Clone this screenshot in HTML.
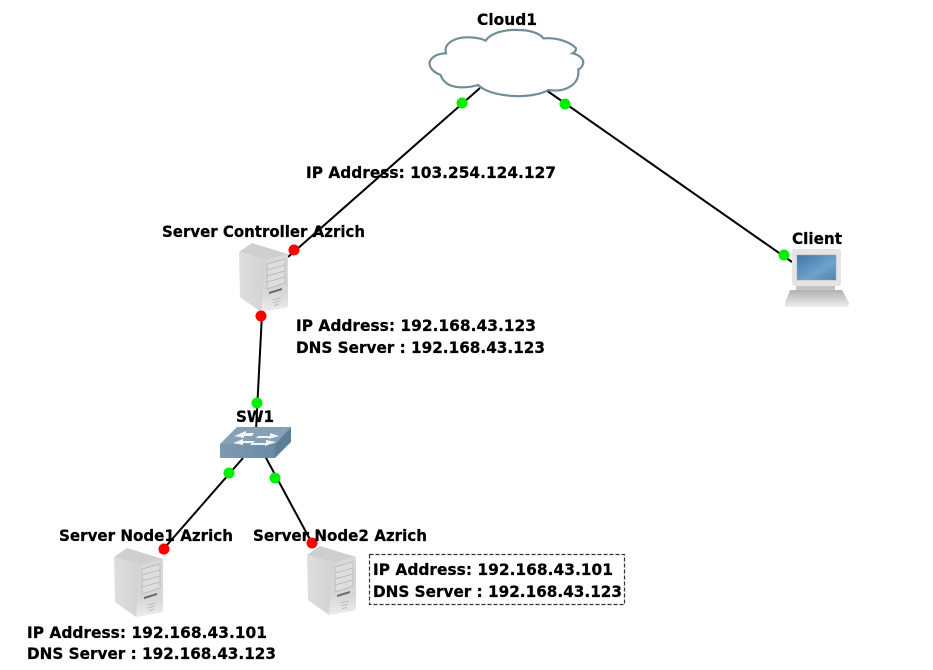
<!DOCTYPE html>
<html><head><meta charset="utf-8"><style>
html,body{margin:0;padding:0;background:#fff}
svg{display:block}
text{font-family:"DejaVu Sans","Liberation Sans",sans-serif;font-weight:bold;font-size:16px;fill:#000;stroke:#000;stroke-width:.25px}
</style></head><body>
<svg width="933" height="670" viewBox="0 0 933 670" xmlns="http://www.w3.org/2000/svg">
<defs>
<linearGradient id="sf" x1="0" y1="0" x2="1" y2="0"><stop offset="0" stop-color="#dedede"/><stop offset="1" stop-color="#d2d2d2"/></linearGradient>
<linearGradient id="sr" x1="0" y1="0" x2="0" y2="1"><stop offset="0" stop-color="#d8d8d8"/><stop offset=".65" stop-color="#d6d6d6"/><stop offset="1" stop-color="#ececec"/></linearGradient>
<linearGradient id="scr" x1="0" y1="0" x2="1" y2="1"><stop offset="0" stop-color="#3f74a6"/><stop offset=".6" stop-color="#6fa3cc"/><stop offset="1" stop-color="#4d83b0"/></linearGradient>
<linearGradient id="kb" x1="0" y1="0" x2="0" y2="1"><stop offset="0" stop-color="#b0b0b0"/><stop offset="1" stop-color="#eeeeee"/></linearGradient>
<linearGradient id="sw" x1="0" y1="0" x2="1" y2="0"><stop offset="0" stop-color="#7d9ab1"/><stop offset="1" stop-color="#6c8aa4"/></linearGradient>
<g id="srv">
<path d="M0 7 L13 -2 L49 9 L28 15 Z" fill="#cfcfcf"/>
<path d="M0 7 L28 15 L22 67 L1 52 Z" fill="url(#sf)"/>
<path d="M28 15 L49 9 L49 60 Q49 62 45 63 L22 67 Z" fill="url(#sr)"/>
<path d="M28 19 L46 14 L46 38 L28 44 Z" fill="#dedede" stroke="#b4b4b4" stroke-width=".7"/>
<path d="M28 25 L46 20 M28 31 L46 26 M28 37 L46 32" stroke="#b4b4b4" stroke-width=".7"/>
<path d="M30 47 L43 43 L43 45 L30 49 Z" fill="#666"/>
<path d="M33 55 L42 53 M34 58 L41 56 M35 61 L40 59" stroke="#bcbcbc" stroke-width="1"/>
</g>
</defs>

<rect width="933" height="670" fill="#fff"/>

<!-- connectors -->
<g stroke="#000" stroke-width="2" fill="none">
<line x1="480" y1="88" x2="288" y2="257"/>
<line x1="546" y1="90" x2="792" y2="262"/>
<line x1="262" y1="314" x2="256" y2="430"/>
<line x1="243" y1="458" x2="160" y2="553"/>
<line x1="265" y1="456" x2="313" y2="545"/>
</g>

<!-- cloud -->
<g transform="translate(420,0) scale(.33333)">
<path d="M62 225 C35 215 22 195 32 180 C40 167 60 160 78 160 C70 135 95 118 125 113 C150 110 180 113 197 122 C215 95 265 88 295 90 C330 90 360 100 370 115 C410 112 450 125 468 145 Q468 155 458 160 C480 165 495 180 488 195 Q484 205 475 208 C478 235 465 255 440 265 Q415 275 385 270 C360 285 315 290 280 288 C235 285 195 275 175 255 C140 265 100 265 80 250 Q65 238 62 225Z" fill="#fff" stroke="#6f8d99" stroke-width="6.5"/>
</g>

<!-- servers -->
<use href="#srv" x="239" y="245"/>
<use href="#srv" x="114" y="550"/>
<use href="#srv" x="307" y="548"/>

<!-- laptop -->
<path d="M794 249 H839 Q841 249 841 252 V284 Q841 286 838 286 H796 Q792 286 792 283 V252 Q792 249 794 249Z" fill="#e4e4e4"/>
<rect x="797" y="255" width="39" height="25" fill="url(#scr)" stroke="#9aa6b0" stroke-width=".5"/>
<path d="M796 286 H835 V290 H796 Z" fill="#c4c4c4"/>
<path d="M790 290 H842 L849 303 Q849 307 845 307 H788 Q784 307 785 303 Z" fill="url(#kb)"/>

<!-- switch -->
<path d="M220 444 L237 427 H291 L275 444 Z" fill="#86a0b5"/>
<path d="M220 444 H275 V458 H220 Z" fill="url(#sw)"/>
<path d="M275 444 L291 427 V442 L275 458 Z" fill="#5f7e98"/>
<path d="M234 436 L246 431 V433 L254 433 L252 436 L244 436 V438 Z M258 436 L270 436 V433 L279 436 L269 439 V438 L256 438 Z M233 443 L243 439 V441 L255 441 L253 443 L243 443 V445 Z M252 443 H266 V440 L276 442 L265 446 V445 H250 Z" fill="#f0f4f7"/>

<!-- dots -->
<g fill="#00ee00">
<circle cx="462" cy="103" r="5.5"/><circle cx="565" cy="104" r="5.5"/>
<circle cx="784" cy="255" r="5.5"/><circle cx="257" cy="403" r="5.5"/>
<circle cx="229" cy="473" r="5.5"/><circle cx="275" cy="478" r="5.5"/>
</g>
<g fill="#f00">
<circle cx="294" cy="250" r="5.5"/><circle cx="261" cy="316" r="5.5"/>
<circle cx="164" cy="549" r="5.5"/><circle cx="312" cy="543" r="5.5"/>
</g>

<!-- note box -->
<rect x="369.5" y="554.5" width="255" height="50" fill="none" stroke="#333" stroke-width="1.2" stroke-dasharray="4 2"/>

<!-- labels -->
<text x="477" y="25" textLength="60" lengthAdjust="spacingAndGlyphs">Cloud1</text>
<text x="306" y="178" textLength="250" lengthAdjust="spacingAndGlyphs">IP Address: 103.254.124.127</text>
<text x="162" y="237" textLength="203" lengthAdjust="spacingAndGlyphs">Server Controller Azrich</text>
<text x="792" y="244" textLength="50" lengthAdjust="spacingAndGlyphs">Client</text>
<text x="296" y="331" textLength="240" lengthAdjust="spacingAndGlyphs">IP Address: 192.168.43.123</text>
<text x="296" y="353" textLength="249" lengthAdjust="spacingAndGlyphs">DNS Server : 192.168.43.123</text>
<text x="236" y="422" textLength="38" lengthAdjust="spacingAndGlyphs">SW1</text>
<text x="59" y="541" textLength="174" lengthAdjust="spacingAndGlyphs">Server Node1 Azrich</text>
<text x="253" y="541" textLength="174" lengthAdjust="spacingAndGlyphs">Server Node2 Azrich</text>
<text x="373" y="575" textLength="240" lengthAdjust="spacingAndGlyphs">IP Address: 192.168.43.101</text>
<text x="373" y="597" textLength="249" lengthAdjust="spacingAndGlyphs">DNS Server : 192.168.43.123</text>
<text x="27" y="638" textLength="240" lengthAdjust="spacingAndGlyphs">IP Address: 192.168.43.101</text>
<text x="27" y="659" textLength="249" lengthAdjust="spacingAndGlyphs">DNS Server : 192.168.43.123</text>
</svg>
</body></html>
